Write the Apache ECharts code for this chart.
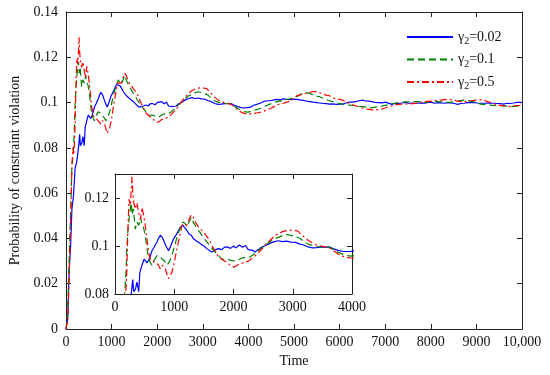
<!DOCTYPE html>
<html><head><meta charset="utf-8">
<script src="https://cdn.jsdelivr.net/npm/echarts@6/dist/echarts.min.js"></script>
<style>html,body{margin:0;padding:0;background:#fff}#c{width:550px;height:375px}</style>
</head><body><div id="c"></div>
<script>
const legendValues = ['0.02', '0.1', '0.5'];
const xTicksMain = [0,1000,2000,3000,4000,5000,6000,7000,8000,9000,10000];
const yTicksMain = [0,0.02,0.04,0.06,0.08,0.1,0.12,0.14];
const insetXRange = [0, 4000];
const insetYRange = [0.08, 0.13];

const blue = [[0,0],[40,0.005],[60,0.02],[80,0.03],[100,0.036],[130,0.053],[165,0.059],[200,0.071],[237,0.074],[273,0.080],[300,0.086],[315,0.081],[345,0.082],[370,0.085],[400,0.081],[420,0.089],[455,0.092],[490,0.0945],[511,0.0947],[540,0.093],[567,0.094],[600,0.096],[623,0.098],[660,0.0995],[708,0.1017],[740,0.1035],[764,0.1045],[800,0.1035],[820,0.103],[860,0.100],[904,0.098],[940,0.100],[989,0.103],[1030,0.1045],[1073,0.1065],[1110,0.108],[1146,0.1086],[1180,0.1075],[1213,0.1065],[1250,0.105],[1286,0.1045],[1326,0.103],[1380,0.102],[1438,0.101],[1500,0.1],[1550,0.0989],[1600,0.098],[1635,0.0975],[1700,0.0985],[1747,0.0989],[1800,0.0985],[1850,0.0995],[1900,0.0996],[1950,0.099],[2000,0.1],[2036,0.0992],[2100,0.1004],[2150,0.0995],[2200,0.1002],[2250,0.0985],[2325,0.0982],[2360,0.0975],[2420,0.0985],[2470,0.0995],[2540,0.1002],[2613,0.1011],[2690,0.1018],[2757,0.1022],[2830,0.1018],[2900,0.102],[2970,0.1016],[3045,0.1015],[3120,0.1008],[3187,0.1004],[3260,0.0996],[3333,0.0992],[3400,0.0993],[3480,0.0995],[3550,0.0995],[3621,0.0996],[3690,0.0988],[3765,0.0982],[3840,0.0978],[3909,0.0977],[3980,0.0978],[4050,0.098],[4120,0.0988],[4197,0.0993],[4270,0.0998],[4340,0.1005],[4410,0.1008],[4485,0.1008],[4560,0.1012],[4629,0.1014],[4700,0.1012],[4770,0.1016],[4850,0.1014],[4920,0.1013],[4990,0.1015],[5061,0.1014],[5130,0.1012],[5205,0.101],[5280,0.1006],[5349,0.1004],[5420,0.1002],[5500,0.1],[5570,0.0998],[5637,0.0996],[5710,0.0995],[5780,0.0993],[5850,0.0994],[5930,0.0992],[6000,0.0993],[6068,0.0993],[6140,0.0998],[6212,0.1002],[6280,0.1002],[6356,0.1004],[6430,0.1008],[6500,0.1011],[6570,0.1007],[6644,0.1006],[6720,0.1003],[6788,0.1001],[6860,0.1],[6932,0.0999],[7000,0.1002],[7149,0.0992],[7220,0.0997],[7290,0.0996],[7365,0.0998],[7437,0.1001],[7509,0.0997],[7580,0.0998],[7653,0.0997],[7725,0.0997],[7797,0.0999],[7869,0.0997],[7941,0.1001],[8013,0.1001],[8085,0.0997],[8157,0.1],[8229,0.0999],[8301,0.0997],[8373,0.1],[8445,0.0998],[8517,0.0996],[8589,0.0992],[8661,0.0996],[8733,0.0997],[8805,0.1],[8877,0.1001],[8949,0.1],[9021,0.0998],[9093,0.0997],[9164,0.0997],[9236,0.0998],[9308,0.0997],[9380,0.0997],[9452,0.0996],[9524,0.0995],[9596,0.0993],[9668,0.0997],[9740,0.0996],[9812,0.0998],[9884,0.1001],[9956,0.1001],[10000,0.1]];

const green = [[0,0],[40,0.008],[58,0.024],[94,0.047],[130,0.072],[165,0.08],[190,0.0915],[200,0.1],[220,0.107],[250,0.114],[275,0.118],[290,0.113],[310,0.1155],[343,0.107],[370,0.11],[400,0.1086],[430,0.112],[455,0.109],[480,0.108],[511,0.104],[540,0.099],[567,0.0947],[600,0.093],[623,0.092],[660,0.094],[708,0.096],[750,0.0955],[792,0.0947],[830,0.094],[876,0.092],[920,0.0935],[960,0.096],[1000,0.0995],[1040,0.103],[1073,0.1058],[1110,0.108],[1146,0.110],[1180,0.1095],[1213,0.108],[1250,0.11],[1286,0.112],[1330,0.1095],[1370,0.108],[1410,0.1065],[1480,0.104],[1550,0.1017],[1620,0.0995],[1690,0.0975],[1748,0.096],[1803,0.0944],[1892,0.0945],[1960,0.094],[2036,0.0937],[2100,0.0945],[2170,0.0952],[2250,0.095],[2325,0.0962],[2400,0.0978],[2468,0.099],[2540,0.1003],[2612,0.1018],[2690,0.103],[2757,0.1036],[2830,0.1044],[2901,0.1048],[2970,0.1044],[3043,0.104],[3120,0.1032],[3189,0.1018],[3260,0.1008],[3333,0.1002],[3400,0.0998],[3475,0.0996],[3549,0.0996],[3621,0.0995],[3690,0.0984],[3765,0.0974],[3840,0.0966],[3909,0.096],[3980,0.0958],[4050,0.096],[4120,0.0965],[4197,0.097],[4270,0.0975],[4340,0.098],[4410,0.0988],[4485,0.0994],[4560,0.1],[4629,0.1004],[4700,0.1006],[4770,0.1011],[4850,0.1014],[4920,0.1017],[4990,0.1022],[5061,0.1026],[5130,0.1035],[5205,0.1041],[5273,0.1045],[5349,0.104],[5420,0.1033],[5490,0.1028],[5561,0.1026],[5637,0.1019],[5705,0.1014],[5780,0.1008],[5849,0.1004],[5930,0.0999],[6000,0.0996],[6068,0.0993],[6140,0.0991],[6212,0.0989],[6280,0.0987],[6356,0.0985],[6430,0.0983],[6500,0.0982],[6570,0.098],[6644,0.0977],[6720,0.0978],[6788,0.098],[6860,0.0982],[6932,0.0984],[7000,0.0988],[7100,0.0992],[7149,0.0995],[7220,0.0997],[7290,0.1],[7365,0.1001],[7437,0.1003],[7509,0.1003],[7580,0.1005],[7653,0.1004],[7725,0.1004],[7797,0.1002],[7869,0.1001],[7941,0.1003],[8013,0.1005],[8085,0.1006],[8157,0.1004],[8229,0.1003],[8301,0.1002],[8373,0.1001],[8445,0.1002],[8517,0.1004],[8589,0.1006],[8661,0.1009],[8733,0.1011],[8805,0.1009],[8877,0.1006],[8949,0.1003],[9021,0.0998],[9093,0.0993],[9164,0.0992],[9236,0.099],[9308,0.0989],[9380,0.0987],[9452,0.0986],[9524,0.0986],[9596,0.0985],[9668,0.0984],[9740,0.0982],[9812,0.0983],[9884,0.0985],[9956,0.0982],[10000,0.0982]];

const red = [[0,0],[40,0.005],[58,0.015],[94,0.04],[130,0.072],[150,0.08],[175,0.077],[200,0.09],[216,0.106],[237,0.1195],[260,0.117],[287,0.1288],[300,0.122],[320,0.1176],[343,0.1155],[370,0.118],[400,0.114],[430,0.111],[455,0.116],[483,0.113],[511,0.1086],[540,0.103],[567,0.0975],[600,0.094],[623,0.0933],[650,0.0935],[680,0.0926],[720,0.0925],[764,0.0905],[800,0.092],[848,0.0905],[880,0.088],[904,0.0864],[930,0.087],[960,0.089],[1000,0.093],[1045,0.0989],[1090,0.104],[1130,0.1086],[1170,0.109],[1213,0.1086],[1250,0.111],[1286,0.113],[1320,0.112],[1354,0.110],[1410,0.108],[1466,0.1065],[1520,0.105],[1579,0.103],[1640,0.1],[1690,0.098],[1748,0.0955],[1803,0.0945],[1892,0.093],[1944,0.092],[2001,0.0912],[2050,0.0918],[2100,0.0925],[2180,0.093],[2250,0.0937],[2320,0.095],[2397,0.0966],[2470,0.0985],[2541,0.1006],[2610,0.1022],[2685,0.104],[2757,0.1052],[2829,0.106],[2900,0.1064],[2973,0.1066],[3030,0.1064],[3081,0.1063],[3140,0.105],[3189,0.1038],[3260,0.1024],[3331,0.1012],[3400,0.1004],[3475,0.1],[3549,0.0996],[3621,0.0992],[3690,0.098],[3765,0.0967],[3840,0.0958],[3909,0.0952],[3980,0.095],[4050,0.095],[4120,0.0952],[4197,0.0955],[4270,0.0958],[4338,0.0962],[4410,0.0968],[4485,0.0974],[4560,0.0982],[4629,0.099],[4701,0.0994],[4770,0.0997],[4850,0.1002],[4920,0.1008],[4990,0.1018],[5061,0.103],[5130,0.1034],[5205,0.1037],[5277,0.1042],[5349,0.1045],[5420,0.1049],[5493,0.1048],[5560,0.1044],[5637,0.1038],[5705,0.1033],[5780,0.103],[5850,0.102],[5921,0.1017],[6000,0.1014],[6068,0.1011],[6140,0.1003],[6212,0.0996],[6280,0.099],[6356,0.0986],[6430,0.098],[6500,0.0976],[6570,0.0972],[6644,0.097],[6720,0.0968],[6788,0.0967],[6860,0.0969],[6932,0.0972],[7000,0.0976],[7070,0.0982],[7149,0.0986],[7220,0.0991],[7290,0.0992],[7365,0.0993],[7437,0.0994],[7509,0.0992],[7580,0.0995],[7653,0.0996],[7725,0.1],[7797,0.1001],[7869,0.1004],[7941,0.1005],[8013,0.1006],[8085,0.1009],[8157,0.1011],[8229,0.1011],[8301,0.1013],[8373,0.1014],[8445,0.1013],[8517,0.101],[8589,0.1006],[8661,0.1004],[8733,0.1004],[8805,0.1006],[8877,0.1008],[8949,0.101],[9021,0.1011],[9093,0.1012],[9164,0.1011],[9236,0.1005],[9308,0.1],[9380,0.0995],[9452,0.099],[9524,0.0988],[9596,0.0986],[9668,0.0984],[9740,0.0982],[9812,0.0985],[9884,0.0987],[9956,0.0987],[10000,0.0988]];

const FONT = '"Liberation Serif", "Times New Roman", serif';
const FS = 14;
const colors = ['#0000ff', '#008000', '#ff0000'];
const dashes = ['solid', [7, 4], [7, 3, 2, 3]];
const datasets = [blue, green, red];

const chart = echarts.init(document.getElementById('c'), null, {renderer: 'canvas'});

function fmtNum(v) {
  if (v === 10000) return '10,000';
  return String(Math.round(v * 1000) / 1000);
}

const axisLine = {show: true, onZero: false, lineStyle: {color: '#222', width: 1}};
const tick = {show: true, inside: true, length: 5, lineStyle: {color: '#222'}};
const lbl = {color: '#111', fontFamily: FONT, fontSize: FS};

const xAxes = [
  {gridIndex: 0, type: 'value', min: 0, max: 10000, interval: 1000, position: 'bottom',
   axisLine, axisTick: tick, splitLine: {show: false},
   axisLabel: Object.assign({margin: 6, formatter: fmtNum}, lbl),
   name: 'Time', nameLocation: 'middle', nameGap: 22,
   nameTextStyle: {fontFamily: FONT, fontSize: FS, color: '#111'}},
  {gridIndex: 0, type: 'value', min: 0, max: 10000, interval: 1000, position: 'top',
   axisLine, axisTick: tick, splitLine: {show: false}, axisLabel: {show: false}},
  {gridIndex: 1, type: 'value', min: insetXRange[0], max: insetXRange[1], interval: 1000, position: 'bottom',
   axisLine, axisTick: tick, splitLine: {show: false},
   axisLabel: Object.assign({margin: 6, formatter: fmtNum}, lbl), z: 6},
  {gridIndex: 1, type: 'value', min: insetXRange[0], max: insetXRange[1], interval: 1000, position: 'top',
   axisLine, axisTick: tick, splitLine: {show: false}, axisLabel: {show: false}, z: 6}
];
const yAxes = [
  {gridIndex: 0, type: 'value', min: 0, max: 0.14, interval: 0.02, position: 'left',
   axisLine, axisTick: tick, splitLine: {show: false},
   axisLabel: Object.assign({margin: 8, formatter: fmtNum}, lbl),
   name: 'Probability of constraint violation', nameLocation: 'middle', nameGap: 44,
   nameTextStyle: {fontFamily: FONT, fontSize: FS, color: '#111'}},
  {gridIndex: 0, type: 'value', min: 0, max: 0.14, interval: 0.02, position: 'right',
   axisLine, axisTick: tick, splitLine: {show: false}, axisLabel: {show: false}},
  {gridIndex: 1, type: 'value', min: insetYRange[0], max: insetYRange[1], interval: 0.02, position: 'left',
   axisLine, axisTick: tick, splitLine: {show: false},
   axisLabel: Object.assign({margin: 6, formatter: fmtNum, showMaxLabel: false}, lbl), z: 6},
  {gridIndex: 1, type: 'value', min: insetYRange[0], max: insetYRange[1], interval: 0.02, position: 'right',
   axisLine, axisTick: tick, splitLine: {show: false}, axisLabel: {show: false}, z: 6}
];

const series = [];
datasets.forEach((d, i) => {
  series.push({
    name: legendValues[i], type: 'line', xAxisIndex: 0, yAxisIndex: 0, data: d,
    showSymbol: false, symbol: 'none', animation: false, clip: true, z: 2,
    lineStyle: {color: colors[i], width: 1.2, type: dashes[i]},
    itemStyle: {color: colors[i]}
  });
});
datasets.forEach((d, i) => {
  series.push({
    name: legendValues[i], type: 'line', xAxisIndex: 2, yAxisIndex: 2,
    data: d.filter(p => p[0] <= insetXRange[1] + 200),
    showSymbol: false, symbol: 'none', animation: false, clip: true, z: 7,
    lineStyle: {color: colors[i], width: 1.2, type: dashes[i]},
    itemStyle: {color: colors[i]}
  });
});

chart.setOption({
  backgroundColor: '#fff',
  animation: false,
  grid: [
    {left: 59, right: 28, top: 12, bottom: 46},
    {left: 115, right: 198, top: 174, bottom: 81, show: true, backgroundColor: '#fff', borderWidth: 0, z: 5}
  ],
  legend: {
    data: legendValues, orient: 'vertical', left: 401, top: 25,
    itemWidth: 46, itemHeight: 14, itemGap: 6,
    itemStyle: {opacity: 0},
    formatter: n => '{g|γ}{s|2}{n|=' + n + '}',
    textStyle: {
      fontFamily: FONT, fontSize: FS, color: '#111',
      rich: {
        g: {fontFamily: FONT, fontSize: FS, color: '#111'},
        s: {fontFamily: FONT, fontSize: 10, color: '#111', padding: [9, 0, 0, 0]},
        n: {fontFamily: FONT, fontSize: FS, color: '#111'}
      }
    }
  },
  xAxis: xAxes,
  yAxis: yAxes,
  series
});
</script>
</body></html>
